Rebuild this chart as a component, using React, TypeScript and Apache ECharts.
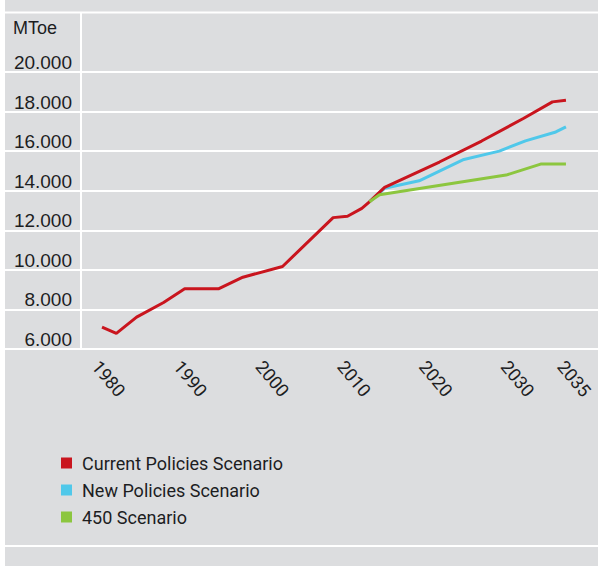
import React, { useEffect, useRef } from "react";
import * as echarts from "echarts";

// Data (MToe)
const cpsYears = [1980, 1981.7, 1984.1, 1987.3, 1989.8, 1993.8, 1996.7, 2001.4, 2007.4, 2009.1, 2010.8, 2011.7, 2013.5, 2020, 2025, 2030, 2033.4, 2035];
const cpsValues = [7110, 6790, 7610, 8350, 9040, 9040, 9630, 10170, 12640, 12710, 13110, 13440, 14170, 15450, 16510, 17660, 18490, 18570];

const npsYears = [2011.7, 2013.5, 2017.6, 2022.9, 2027.1, 2030.2, 2033.8, 2035];
const npsValues = [13440, 14120, 14500, 15580, 16000, 16520, 16970, 17230];

const s450Years = [2011.7, 2012.9, 2027.9, 2032, 2035];
const s450Values = [13440, 13800, 14790, 15345, 15345];

const seriesNames = ["Current Policies Scenario", "New Policies Scenario", "450 Scenario"];
const seriesColors = ["#c9151e", "#50c8ea", "#8cc63f"];

const xTickYears = [1980, 1990, 2000, 2010, 2020, 2030, 2035];
const yMin = 6000;
const yMax = 20000;
const yStep = 2000;
const unitLabel = "MToe";

// the original places the "2035" tick label a bit further right than a linear scale would
const tickPos = (y: number) => (y === 2035 ? 2036.9 : y);

const fmt = (v: number) => String(v).replace(/\B(?=(\d{3})+(?!\d))/g, ".");
const pairs = (xs: number[], ys: number[]) => xs.map((x, i) => [x, ys[i]]);

export default function App() {
  const ref = useRef<HTMLDivElement>(null);
  useEffect(() => {
    if (!ref.current) return;
    const chart = echarts.init(ref.current, null, { renderer: "svg" });
    const bg = "#dcdddf";
    const textColor = "#1d1d1f";
    const customVals = xTickYears.map(tickPos);
    chart.setOption({
      animation: false,
      backgroundColor: bg,
      title: {
        text: unitLabel,
        left: 13,
        top: 19,
        padding: 0,
        textStyle: { fontFamily: "Liberation Sans", fontSize: 18, fontWeight: "normal", color: textColor },
      },
      grid: { left: 5, right: 0, top: 72, bottom: 217, containLabel: false },
      xAxis: [
        { type: "value", min: 1968.5, max: 2038.8, show: false },
        {
          type: "value",
          min: 1968.9,
          max: 2041.4,
          position: "bottom",
          axisLine: { show: false },
          axisTick: { show: false },
          splitLine: { show: false },
          axisLabel: {
            customValues: customVals,
            formatter: (v: number) => {
              const i = customVals.findIndex((c) => Math.abs(c - v) < 0.01);
              return i >= 0 ? String(xTickYears[i]) : "";
            },
            rotate: -50,
            margin: 14,
            fontFamily: "Roboto",
            fontSize: 18,
            color: textColor,
          },
        },
      ],
      yAxis: {
        type: "value",
        min: yMin,
        max: yMax,
        interval: yStep,
        axisLine: { show: false },
        axisTick: { show: false },
        splitLine: { show: true, lineStyle: { color: "#ffffff", width: 2 } },
        axisLabel: {
          inside: true,
          margin: 67,
          align: "right",
          verticalAlign: "bottom",
          formatter: (v: number) => fmt(v),
          fontFamily: "Liberation Sans",
          fontSize: 19,
          color: textColor,
        },
      },
      legend: {
        orient: "vertical",
        left: 61,
        top: 454,
        icon: "rect",
        itemWidth: 11,
        itemHeight: 11,
        itemGap: 9,
        padding: 0,
        data: seriesNames,
        textStyle: { fontFamily: "Roboto", fontSize: 18, lineHeight: 18, color: textColor, padding: [0, 0, 0, 5] },
      },
      graphic: [
        { type: "rect", shape: { x: 0, y: 0, width: 5, height: 566 }, style: { fill: "#ffffff" }, silent: true },
        { type: "line", shape: { x1: 5, y1: 12.5, x2: 598, y2: 12.5 }, style: { stroke: "#ffffff", lineWidth: 2 }, silent: true },
        { type: "line", shape: { x1: 81, y1: 12, x2: 81, y2: 349 }, style: { stroke: "#ffffff", lineWidth: 2 }, silent: true },
        { type: "line", shape: { x1: 5, y1: 546, x2: 598, y2: 546 }, style: { stroke: "#ffffff", lineWidth: 2 }, silent: true },
      ],
      series: [
        {
          name: seriesNames[1],
          type: "line",
          xAxisIndex: 0,
          data: pairs(npsYears, npsValues),
          showSymbol: false,
          color: seriesColors[1],
          lineStyle: { width: 3, color: seriesColors[1] },
          z: 2,
        },
        {
          name: seriesNames[0],
          type: "line",
          xAxisIndex: 0,
          data: pairs(cpsYears, cpsValues),
          showSymbol: false,
          color: seriesColors[0],
          lineStyle: { width: 3, color: seriesColors[0] },
          z: 3,
        },
        {
          name: seriesNames[2],
          type: "line",
          xAxisIndex: 0,
          data: pairs(s450Years, s450Values),
          showSymbol: false,
          color: seriesColors[2],
          lineStyle: { width: 3, color: seriesColors[2] },
          z: 4,
        },
      ],
    });
    return () => chart.dispose();
  }, []);
  return (
    <div
      ref={ref}
      style={{ position: "fixed", left: 0, top: 0, width: 598, height: 566 }}
    />
  );
}
